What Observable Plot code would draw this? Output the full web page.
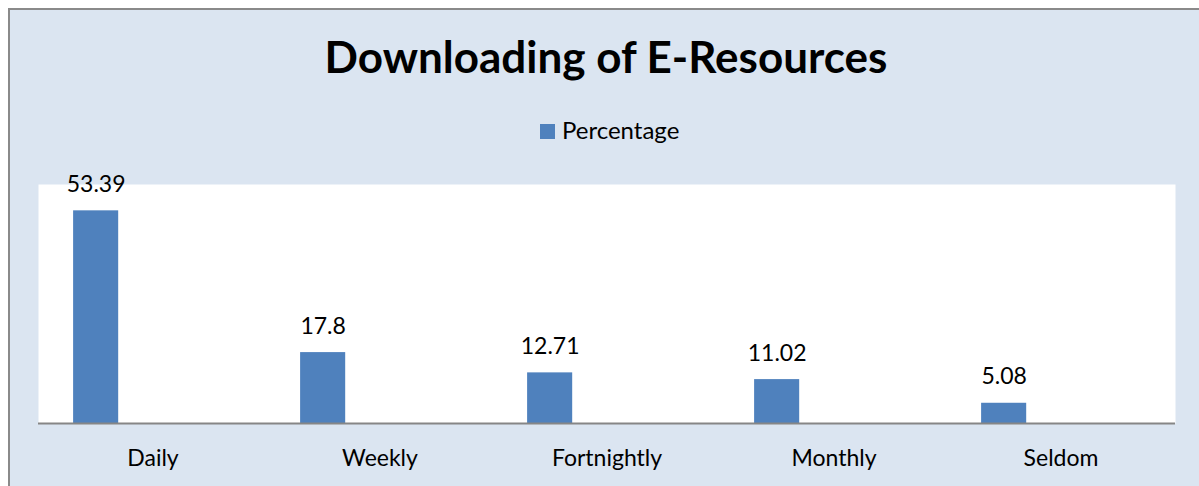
<!DOCTYPE html>
<html>
<head>
<meta charset="utf-8">
<script src="https://cdn.jsdelivr.net/npm/d3@7"></script>
<script src="https://cdn.jsdelivr.net/npm/@observablehq/plot@0.6"></script>
<style>
  html, body { margin: 0; padding: 0; background: #ffffff; overflow: hidden; width: 1199px; height: 486px; }
  #frame {
    position: absolute; left: 8px; top: 8px; width: 1400px; height: 700px;
    background: #dbe5f1; border-left: 2px solid #8a8a8a; border-top: 2px solid #8a8a8a;
    box-sizing: border-box;
  }
  #title {
    position: absolute; left: 0; width: 1212px; top: 34px; text-align: center;
    font-family: Lato, "Open Sans", sans-serif; font-weight: bold; font-size: 44px; color: #000;
    line-height: 1;
  }
  #legend {
    position: absolute; left: 540px; top: 118px; font-family: Lato, sans-serif; font-size: 24px; color: #000;
    display: flex; align-items: center; line-height: 1;
  }
  #legend .sw { width: 15px; height: 15px; background: #4f81bd; display: inline-block; margin-right: 7px; position: relative; top: 1px; }
  #chart { position: absolute; left: 0; top: 160px; }
</style>
</head>
<body>
<div id="frame"></div>
<div id="title">Downloading of E-Resources</div>
<div id="legend"><span class="sw"></span><span id="legtext">Percentage</span></div>
<div id="chart"></div>
<script>
const categories = ["Daily", "Weekly", "Fortnightly", "Monthly", "Seldom"];
const percentages = [53.39, 17.8, 12.71, 11.02, 5.08];
const seriesName = "Percentage";
const yDomain = [0, 60];

const data = categories.map((c, i) => ({category: c, value: percentages[i]}));

const width = 1199, height = 326;
const mL = 38, mR = 24, mT = 24, mB = 63;
const bw = (width - mL - mR) / categories.length;

const chart = Plot.plot({
  width, height,
  marginLeft: mL, marginRight: mR, marginTop: mT, marginBottom: mB,
  style: {background: "transparent", fontFamily: "Lato, 'Open Sans', sans-serif", fontSize: "23px", color: "#000"},
  x: {domain: categories, padding: 0, label: null},
  y: {domain: yDomain, axis: null},
  marks: [
    Plot.frame({fill: "white", stroke: null}),
    Plot.barY(data, {x: "category", y: "value", fill: "#4f81bd", insetLeft: bw * 0.15, insetRight: bw * 0.65}),
    Plot.text(data, {x: "category", y: "value", text: d => String(d.value), dx: -bw * 0.25, dy: -19, lineAnchor: "bottom", fill: "#000", fontSize: 23}),
    Plot.ruleY([0], {stroke: "#868686", strokeWidth: 2}),
    Plot.axisX({tickSize: 0, tickPadding: 26, fontSize: 23, fill: "#000", label: null})
  ]
});
document.getElementById("chart").appendChild(chart);
document.getElementById("legtext").textContent = seriesName;
</script>
</body>
</html>
